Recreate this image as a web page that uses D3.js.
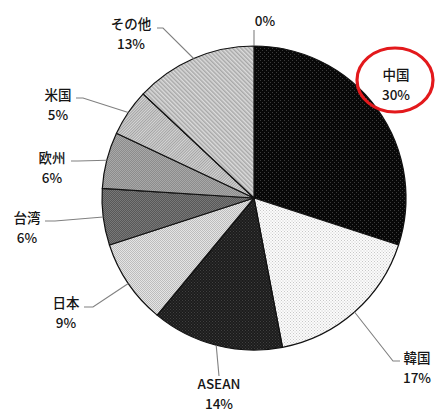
<!DOCTYPE html>
<html>
<head>
<meta charset="utf-8">
<script src="https://cdn.jsdelivr.net/npm/d3@7/dist/d3.min.js"></script>
<style>
  html, body { margin: 0; padding: 0; background: #fff; }
  svg { display: block; }
  text { font-family: "Noto Sans CJK JP", "Noto Sans", sans-serif; fill: #151515; font-weight: 500; }
</style>
</head>
<body>
<svg id="chart" width="435" height="414"></svg>
<script>
// Export share by destination, clockwise from 12 o'clock
const categories = ["中国", "韓国", "ASEAN", "日本", "台湾", "欧州", "米国", "その他", ""];
const values     = [30, 17, 14, 9, 6, 6, 5, 13, 0];
const pctLabels  = ["30%", "17%", "14%", "9%", "6%", "6%", "5%", "13%", "0%"];

// Label text anchors (centre x, baseline of the first line) and leader elbows
const labelLayout = [
  { x: 396, y: 80,  leader: null },
  { x: 417, y: 363, leader: [[400, 361], [393, 361]] },
  { x: 219, y: 389, leader: [[219, 376], [219, 376]] },
  { x: 66,  y: 308, leader: [[84, 307], [93, 307]] },
  { x: 27,  y: 223, leader: [[45, 221], [55, 221]] },
  { x: 52,  y: 163, leader: [[71, 161], [78, 161]] },
  { x: 58,  y: 100, leader: [[76, 98], [83, 98]] },
  { x: 131, y: 29,  leader: [[157, 28], [163, 28]] },
  { x: 265, y: 26,  leader: [[254, 30], [254, 30]] }
];

const svg = d3.select("#chart");
const cx = 254, cy = 198, R = 152;

// Fill patterns for each slice
const defs = svg.append("defs");
function dotPattern(id, bg, fg, step, size) {
  const p = defs.append("pattern").attr("id", id).attr("patternUnits", "userSpaceOnUse")
    .attr("width", step).attr("height", step);
  p.append("rect").attr("width", step).attr("height", step).attr("fill", bg);
  p.append("rect").attr("x", 0).attr("y", 0).attr("width", size).attr("height", size).attr("fill", fg);
  p.append("rect").attr("x", step / 2).attr("y", step / 2).attr("width", size).attr("height", size).attr("fill", fg);
}
function checkerPattern(id, a, b) {
  const p = defs.append("pattern").attr("id", id).attr("patternUnits", "userSpaceOnUse")
    .attr("width", 2).attr("height", 2);
  p.append("rect").attr("width", 2).attr("height", 2).attr("fill", a);
  p.append("rect").attr("width", 1).attr("height", 1).attr("fill", b);
  p.append("rect").attr("x", 1).attr("y", 1).attr("width", 1).attr("height", 1).attr("fill", b);
}
function stripePattern(id, bg, fg, step, angle) {
  const p = defs.append("pattern").attr("id", id).attr("patternUnits", "userSpaceOnUse")
    .attr("width", step).attr("height", step).attr("patternTransform", `rotate(${angle})`);
  p.append("rect").attr("width", step).attr("height", step).attr("fill", bg);
  p.append("rect").attr("width", step / 2).attr("height", step).attr("fill", fg);
}
dotPattern("p0", "#080808", "#3c3c3c", 4, 1);
dotPattern("p1", "#fbfbfb", "#c8c8c8", 3, 1);
dotPattern("p2", "#1c1c1c", "#404040", 3, 1);
checkerPattern("p3", "#e4e4e4", "#bdbdbd");
checkerPattern("p4", "#585858", "#787878");
checkerPattern("p5", "#8c8c8c", "#a8a8a8");
stripePattern("p6", "#d6d6d6", "#a4a4a4", 2, 45);
stripePattern("p7", "#dcdcdc", "#a8a8a8", 3, -45);
const fills = ["url(#p0)", "url(#p1)", "url(#p2)", "url(#p3)", "url(#p4)", "url(#p5)", "url(#p6)", "url(#p7)", "none"];

const data = categories.map((c, i) => ({ name: c, value: values[i], pct: pctLabels[i], i }));
const pie = d3.pie().sort(null).value(d => d.value);
const arcs = pie(data);
const arc = d3.arc().innerRadius(0).outerRadius(R);

const g = svg.append("g").attr("transform", `translate(${cx},${cy})`);
g.selectAll("path.slice")
  .data(arcs.filter(d => d.data.value > 0))
  .join("path")
  .attr("class", "slice")
  .attr("d", arc)
  .attr("fill", d => fills[d.data.i])
  .attr("stroke", "#111")
  .attr("stroke-width", 1.2)
  .attr("stroke-linejoin", "round");

// Leader lines from each label to the middle of its slice's rim
const line = d3.line();
arcs.forEach(d => {
  const lay = labelLayout[d.data.i];
  if (!lay.leader) return;
  const a = (d.startAngle + d.endAngle) / 2;
  const edge = [cx + R * Math.sin(a), cy - R * Math.cos(a)];
  svg.append("path")
    .attr("d", line([lay.leader[0], lay.leader[1], edge]))
    .attr("fill", "none")
    .attr("stroke", "#808080")
    .attr("stroke-width", 1.1);
});

// Category name and percentage labels
arcs.forEach(d => {
  const lay = labelLayout[d.data.i];
  const t = svg.append("text").attr("text-anchor", "middle").style("font-size", "13.5px");
  if (d.data.name) {
    t.append("tspan").attr("x", lay.x).attr("y", lay.y).text(d.data.name);
    t.append("tspan").attr("x", lay.x).attr("y", lay.y + 20).text(d.data.pct);
  } else {
    t.append("tspan").attr("x", lay.x).attr("y", lay.y).text(d.data.pct);
  }
});

// Highlight ring around the largest share
svg.append("ellipse")
  .attr("cx", 395).attr("cy", 80).attr("rx", 38).attr("ry", 32)
  .attr("fill", "none").attr("stroke", "#e3191c").attr("stroke-width", 3.2);
</script>
</body>
</html>
